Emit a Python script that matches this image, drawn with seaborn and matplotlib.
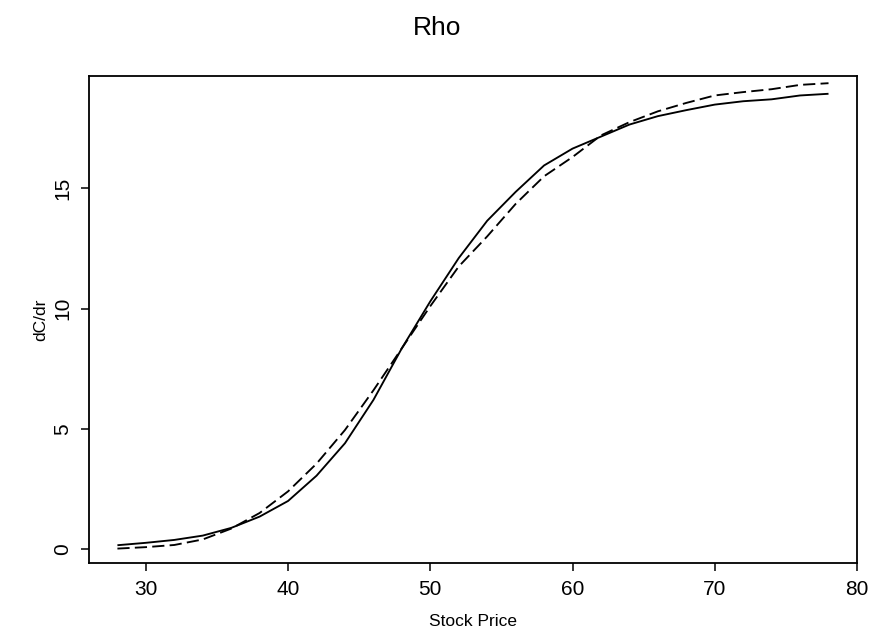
import numpy as np
import pandas as pd
import seaborn as sns
import matplotlib.pyplot as plt

# stock prices and the two rho curves
price = [28, 30, 32, 34, 36, 38, 40, 42, 44, 46, 48, 50, 52,
         54, 56, 58, 60, 62, 64, 66, 68, 70, 72, 74, 76, 78]
rho_sim = [0.16, 0.26, 0.38, 0.56, 0.88, 1.35, 2.0, 3.05, 4.4, 6.2, 8.35, 10.3, 12.1,
           13.65, 14.85, 15.95, 16.65, 17.15, 17.65, 18.0, 18.25, 18.48, 18.62, 18.7, 18.86, 18.93]
rho_bs = [0.02, 0.08, 0.17, 0.4, 0.85, 1.5, 2.4, 3.55, 4.95, 6.6, 8.35, 10.1, 11.75,
          13.0, 14.35, 15.5, 16.3, 17.2, 17.75, 18.2, 18.55, 18.86, 19.0, 19.12, 19.3, 19.37]

df = pd.DataFrame({
    "price": price * 2,
    "rho": rho_sim + rho_bs,
    "kind": ["sim"] * len(price) + ["bs"] * len(price),
})

sns.set_theme(style="white")
plt.rcParams["font.family"] = ["Liberation Sans", "DejaVu Sans"]
plt.rcParams["text.color"] = "black"
plt.rcParams["axes.labelcolor"] = "black"
plt.rcParams["xtick.color"] = "black"
plt.rcParams["ytick.color"] = "black"

fig = plt.figure(figsize=(8.74, 6.39), dpi=100)
ax = fig.add_axes([0.1018, 0.1185, 0.8787, 0.763])

sns.lineplot(data=df, x="price", y="rho", hue="kind", style="kind",
             palette=["black", "black"], dashes=[(1, 0), (6.5, 2.8)],
             linewidth=1.35, legend=False, ax=ax)

lo, hi = min(rho_sim), max(rho_sim)
r = hi - lo
ax.set_xlim(26, 80)
ax.set_ylim(lo - 0.04 * r, hi + 0.04 * r)
ax.set_xticks([30, 40, 50, 60, 70, 80])
ax.set_yticks([0, 5, 10, 15])

for s in ax.spines.values():
    s.set_color("black")
    s.set_linewidth(1.3)

ax.tick_params(axis="both", direction="out", length=6, width=1.1, color="black",
               labelsize=15, bottom=True, left=True, pad=6)
for lab in ax.get_yticklabels():
    lab.set_rotation(90)
    lab.set_va("center")

ax.set_xlabel("Stock Price", fontsize=12.5, labelpad=11)
ax.set_ylabel("dC/dr", fontsize=12.5, labelpad=4)
fig.suptitle("Rho", fontsize=19, y=0.975)

fig.savefig("out.png", dpi=100)
